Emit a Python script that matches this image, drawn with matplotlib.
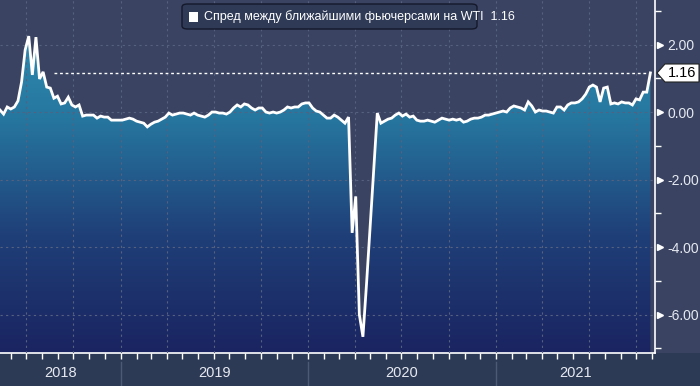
import numpy as np
import pandas as pd
import matplotlib
matplotlib.use("Agg")
from matplotlib import pyplot as plt
import matplotlib.dates as mdates
from matplotlib.patches import Polygon, FancyBboxPatch, Rectangle
from matplotlib.transforms import blended_transform_factory

plt.rcParams['font.family'] = ['Liberation Sans', 'DejaVu Sans']
plt.rcParams['axes.unicode_minus'] = False

# weekly spread between the two nearest WTI futures
spread = [
    0.06, -0.06, 0.15, 0.09, 0.15, 0.33, 0.89, 1.84, 2.25, 1.10,
    2.22, 0.98, 1.19, 0.74, 0.71, 0.41, 0.47, 0.24, 0.27, 0.44,
    0.21, 0.15, 0.21, -0.12, -0.09, -0.09, -0.09, -0.18, -0.12, -0.15,
    -0.15, -0.24, -0.24, -0.24, -0.24, -0.21, -0.18, -0.21, -0.27, -0.30,
    -0.33, -0.44, -0.36, -0.30, -0.27, -0.21, -0.15, -0.03, -0.09, -0.06,
    -0.03, -0.03, -0.06, -0.09, -0.03, -0.09, -0.12, -0.15, -0.09, 0.00,
    0.00, -0.03, -0.03, -0.06, 0.00, 0.12, 0.21, 0.15, 0.24, 0.21,
    0.12, 0.06, 0.12, 0.12, 0.00, -0.03, 0.00, -0.03, 0.00, 0.06,
    0.15, 0.12, 0.15, 0.15, 0.24, 0.27, 0.27, 0.12, 0.03, 0.00,
    -0.09, -0.18, -0.18, -0.09, -0.15, -0.24, -0.33, -0.15, -3.58, -2.50,
    -6.00, -6.66, -5.10, -3.40, -1.70, -0.03, -0.33, -0.27, -0.21, -0.18,
    -0.09, -0.03, -0.12, -0.06, -0.15, -0.12, -0.24, -0.27, -0.27, -0.24,
    -0.27, -0.30, -0.24, -0.18, -0.21, -0.24, -0.21, -0.24, -0.21, -0.30,
    -0.27, -0.21, -0.18, -0.18, -0.15, -0.09, -0.09, -0.06, -0.03, 0.00,
    0.03, 0.00, 0.12, 0.18, 0.15, 0.12, 0.06, 0.30, 0.18, 0.00,
    0.06, 0.03, 0.03, 0.00, -0.03, 0.15, 0.15, 0.06, 0.21, 0.27,
    0.27, 0.30, 0.39, 0.53, 0.74, 0.80, 0.74, 0.30, 0.71, 0.74,
    0.24, 0.27, 0.24, 0.30, 0.27, 0.27, 0.21, 0.39, 0.36, 0.59,
    0.59, 1.16,
]
dates = pd.date_range('2018-05-11', periods=len(spread), freq='W-FRI')
last_value = spread[-1]
legend_text = 'Спред между ближайшими фьючерсами на WTI  1.16'
years = [2018, 2019, 2020, 2021]
y_labels = [2, 0, -2, -4, -6]

bg_top = '#3a4462'
bg_band = '#2d3a56'
grid_col = '#56617f'

fig = plt.figure(figsize=(7, 3.86), dpi=100, facecolor=bg_top)
fig.patches.append(Rectangle((0, 0), 1, 1 - 353 / 386, transform=fig.transFigure,
                             facecolor=bg_band, edgecolor='none', zorder=-1))
ax = fig.add_axes([0, 1 - 353 / 386, 655 / 700, 353 / 386])
ax.set_facecolor(bg_top)

x0 = pd.Timestamp('2018-05-11')
x1 = pd.Timestamp('2021-11-07')
ymin, ymax = -7.14, 3.32
ax.set_xlim(x0, x1)
ax.set_ylim(ymin, ymax)

# gradient area under the line
xn = mdates.date2num(dates)
poly = ax.fill_between(dates, spread, ymin, color='none', lw=0)
grad = np.linspace(0, 1, 256).reshape(-1, 1)
cmap = matplotlib.colors.LinearSegmentedColormap.from_list(
    'g', ['#1a2461', '#1f3f78', '#2677a0', '#3193b4'])
img = ax.imshow(grad, extent=[xn[0], xn[-1], ymin, ymax], origin='lower',
                aspect='auto', cmap=cmap, zorder=1)
img.set_clip_path(poly.get_paths()[0], transform=ax.transData)

ax.plot(dates, spread, color='white', lw=2, zorder=4, solid_joinstyle='miter')

# grid
for q in pd.date_range('2018-07-01', '2021-10-01', freq='QS'):
    ax.axvline(q, color=grid_col, lw=0.8, ls=(0, (2, 3)), zorder=3)
for v in y_labels:
    ax.axhline(v, color=grid_col, lw=0.8, ls=(0, (2, 3)), zorder=3)

# last value dotted line
ax.plot([dates[15], dates[-1]], [last_value, last_value], color='white',
        lw=1, ls=(0, (2, 2)), zorder=3)

# spines and ticks
for s in ['top', 'left']:
    ax.spines[s].set_visible(False)
for s in ['right', 'bottom']:
    ax.spines[s].set_color('white')
    ax.spines[s].set_linewidth(1.2)

ax.yaxis.tick_right()
ax.set_yticks(y_labels)
ax.set_yticklabels(['%.2f' % v for v in y_labels])
ax.set_yticks(range(-7, 4), minor=True)
ax.tick_params(axis='y', which='major', length=0, pad=9, labelsize=10,
               labelcolor='#e6e9f0')
ax.tick_params(axis='y', which='minor', length=4, color='white', width=1)
trans_y = blended_transform_factory(ax.transAxes, ax.transData)
ax.plot([1.008] * len(y_labels), y_labels, marker='>', ms=5, color='white',
        ls='none', transform=trans_y, clip_on=False)

ax.xaxis.set_major_locator(mdates.MonthLocator())
ax.xaxis.set_major_formatter(plt.NullFormatter())
ax.tick_params(axis='x', which='major', length=4, color='white', width=1,
               direction='out')

# year labels and separators
trans_x = blended_transform_factory(ax.transData, fig.transFigure)
for yr in years:
    a = max(pd.Timestamp(f'{yr}-01-01'), x0)
    b = min(pd.Timestamp(f'{yr + 1}-01-01'), x1)
    mid = a + (b - a) / 2
    ax.text(mid, 1 - 373 / 386, str(yr), transform=trans_x, ha='center',
            va='center', color='#e6e9f0', fontsize=10.5)
    if yr > years[0]:
        ax.plot([a, a], [0, 1 - 362 / 386], color='#4d5a76', lw=1,
                transform=trans_x, clip_on=False)

# legend box
fig.patches.append(FancyBboxPatch((182 / 700, 1 - 29 / 386), 295 / 700, 25 / 386,
                                  boxstyle='round,pad=0,rounding_size=0.008',
                                  transform=fig.transFigure, facecolor='#2f3a56',
                                  edgecolor='#14182a', lw=1, zorder=5))
fig.patches.append(Rectangle((189 / 700, 1 - 22 / 386), 9 / 700, 10 / 386,
                             transform=fig.transFigure, facecolor='white',
                             edgecolor='none', zorder=6))
fig.text(204 / 700, 1 - 16.5 / 386, legend_text, color='white', fontsize=9,
         va='center', ha='left', zorder=6)

# last value tag
pts = [(657, 73), (665, 64), (699, 64), (699, 82), (665, 82)]
fig.patches.append(Polygon([(x / 700, 1 - y / 386) for x, y in pts], closed=True,
                           transform=fig.transFigure, facecolor='white',
                           edgecolor='#222222', lw=0.8, zorder=6))
fig.text(682 / 700, 1 - 73 / 386, '%.2f' % last_value, color='black',
         fontsize=10.5, ha='center', va='center', zorder=7)

fig.savefig('out.png', dpi=100, facecolor=fig.get_facecolor())
